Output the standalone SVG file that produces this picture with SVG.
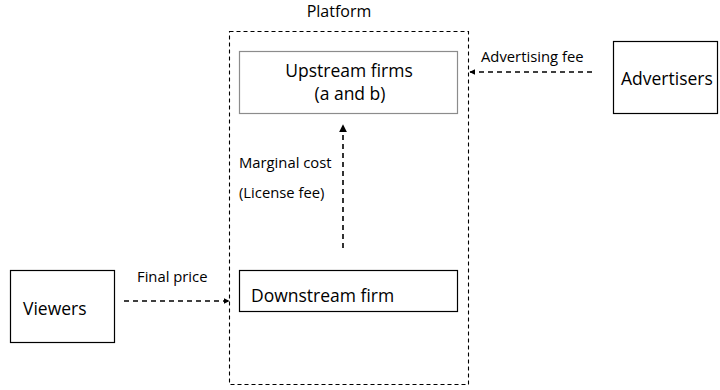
<svg xmlns="http://www.w3.org/2000/svg" width="720" height="390" viewBox="0 0 720 390">
  <style>
    text { font-family: "Open Sans", "Liberation Sans", sans-serif; fill: #000; }
    .big { font-size: 17.5px; }
    .small { font-size: 14.8px; }
    .box { fill: #fff; stroke: #000; stroke-width: 1.2; }
    .flow { fill: none; stroke: #000; stroke-width: 1.6; stroke-dasharray: 5 4; }
    .frame { fill: none; stroke: #000; stroke-width: 1.1; stroke-dasharray: 4 3; }
  </style>
  <defs>
    <marker id="head" viewBox="0 0 10 10" refX="9" refY="5" markerWidth="6" markerHeight="6" orient="auto" markerUnits="userSpaceOnUse">
      <path d="M0 0 L10 5 L0 10 z" fill="#000"/>
    </marker>
    <marker id="headBig" viewBox="0 0 10 10" refX="9" refY="5" markerWidth="8" markerHeight="8" orient="auto" markerUnits="userSpaceOnUse">
      <path d="M0 0 L10 5 L0 10 z" fill="#000"/>
    </marker>
  </defs>

  <g id="platform">
    <rect class="frame" x="229.5" y="31.5" width="239" height="353"/>
    <text x="339" y="17" text-anchor="middle" font-size="16">Platform</text>
  </g>

  <g id="upstream">
    <rect x="239.5" y="51.5" width="218" height="62" fill="#fff" stroke="#8c8c8c" stroke-width="1.2"/>
    <text class="big" x="349" y="77" text-anchor="middle">Upstream firms</text>
    <text class="big" x="350" y="100" text-anchor="middle">(a and b)</text>
  </g>

  <g id="downstream">
    <rect class="box" x="239.5" y="270.5" width="218" height="41"/>
    <text class="big" x="251" y="302" font-size="18">Downstream firm</text>
  </g>

  <g id="advertisers">
    <rect class="box" x="613.5" y="41.5" width="104" height="72"/>
    <text class="big" x="621" y="85">Advertisers</text>
  </g>

  <g id="viewers">
    <rect class="box" x="10.5" y="270.5" width="104" height="72"/>
    <text class="big" x="23" y="315" font-size="18.5">Viewers</text>
  </g>

  <g id="connectors">
    <line class="flow" x1="592" y1="72" x2="470" y2="72" marker-end="url(#head)"/>
    <text class="small" x="481" y="62">Advertising fee</text>

    <line class="flow" x1="124" y1="301" x2="229" y2="301" marker-end="url(#head)"/>
    <text class="small" x="137" y="282">Final price</text>

    <line class="flow" x1="343" y1="248" x2="343" y2="125" marker-end="url(#headBig)"/>
    <text class="small" x="239" y="168">Marginal cost</text>
    <text class="small" x="239" y="198">(License fee)</text>
  </g>
</svg>
